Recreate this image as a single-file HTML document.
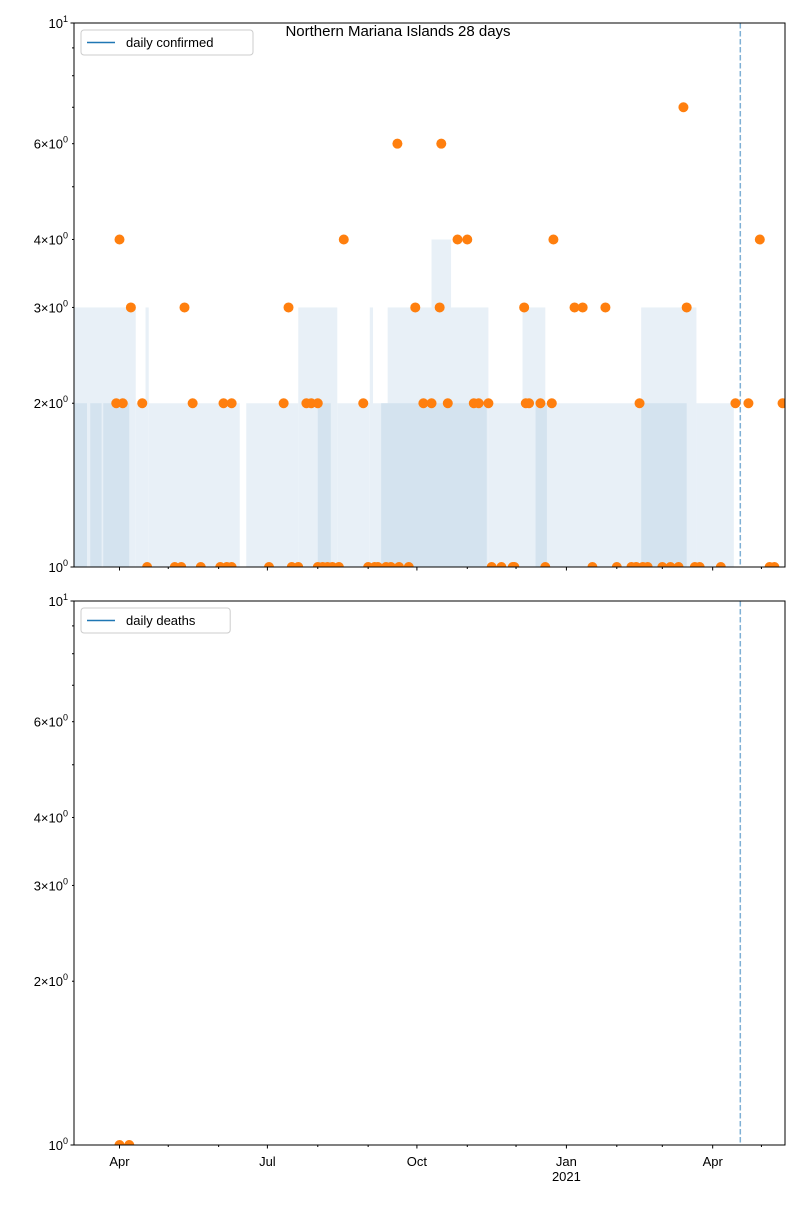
<!DOCTYPE html>
<html><head><meta charset="utf-8"><style>body{margin:0;background:#fff}svg{font-family:"Liberation Sans","DejaVu Sans",sans-serif}</style></head>
<body>
<svg id="chart" width="800" height="1200" xmlns="http://www.w3.org/2000/svg">
<text x="398" y="36" font-size="15" text-anchor="middle">Northern Mariana Islands 28 days</text>
</svg>
<script>
// day 0 = 2020-03-04
const confirmedDays=[28,26,30,35,42,45,62,66,68,73,78,90,92,94,97,97,120,129,132,134,138,143,146,150,150,153,156,159,163,166,178,181,185,187,192,195,199,200,206,210,215,220,225,226,230,236,242,246,249,255,257,263,270,271,277,278,280,287,290,294,295,308,313,319,327,334,343,346,348,350,353,362,367,372,375,377,382,385,398,407,415,422,428,431,436];
const confirmedVals=[4,2,2,3,2,1,1,1,3,2,1,1,2,1,2,1,1,2,3,1,1,2,2,2,1,1,1,1,1,4,2,1,1,1,1,1,6,1,1,3,2,2,3,6,2,4,4,2,2,2,1,1,1,1,3,2,2,2,1,2,4,3,3,1,3,1,1,1,2,1,1,1,1,1,7,3,1,1,1,2,2,4,1,1,2];
const deathDays=[28,34];
const deathVals=[1,1];
const outerBandStart=[0,38,44,46,102,106,138,162,182,184,193,220,232,255,276,290,349,383];
const outerBandEnd=[38,44,46,102,106,138,162,182,184,193,220,232,255,276,290,349,383,406];
const outerBandLevel=[3,2,3,2,1,2,3,2,3,2,3,4,3,2,3,2,3,2];
const innerBandStart=[0,10,18,150,189,284,349];
const innerBandEnd=[8,17,34,158,254,291,377];
const innerBandLevel=[2,2,2,2,2,2,2];
const xTickDays=[28,119,211,303,393];
const xTickLabels=["Apr","Jul","Oct","Jan","Apr"];
const xMinorDays=[58,89,150,181,242,272,334,362,423];
const vlineDay=410;
const yLabeled=[2,3,4,6];
const yMinor=[5,7,8,9];

const NS="http://www.w3.org/2000/svg";
const svg=document.getElementById('chart');
const X0=74,X1=785,D0=0,D1=437.5;
const xs=d=>X0+(d-D0)/(D1-D0)*(X1-X0);
function mk(t,a,p){const e=document.createElementNS(NS,t);for(const k in a)e.setAttribute(k,a[k]);(p||svg).appendChild(e);return e;}
function panel(top,bot,name,legend,days,vals,bands){
  const ys=v=>bot-Math.log10(v)*(bot-top);
  const g=mk('g',{});
  
  
  if(bands){
    const draw=(st,en,lv,col,nm)=>{for(let i=0;i<st.length;i++){const r=mk('rect',{x:xs(st[i]),y:ys(lv[i]),width:xs(en[i])-xs(st[i]),height:bot-ys(lv[i]),fill:col},g);
      
      }};
    draw(outerBandStart,outerBandEnd,outerBandLevel,'#e8f0f7','range-band');
    draw(innerBandStart,innerBandEnd,innerBandLevel,'#d4e3ef','inner-band');
  }
  const vl=mk('line',{x1:xs(vlineDay),x2:xs(vlineDay),y1:top,y2:bot,stroke:'#7fb0d5','stroke-width':1.5,'stroke-dasharray':'5.5,2.5'},g);
  
  
  const cp=mk('clipPath',{id:'cp'+name},g);mk('rect',{x:X0,y:top,width:X1-X0,height:bot-top},cp);
  const pg=mk('g',{'clip-path':'url(#cp'+name+')'},g);
  for(let i=0;i<days.length;i++){const c=mk('circle',{cx:xs(days[i]),cy:ys(vals[i]),r:5,fill:'#ff7f0e'},pg);
    
    }
  const fr=mk('rect',{x:X0,y:top,width:X1-X0,height:bot-top,fill:'none',stroke:'#000','stroke-width':1},g);
  
  
  // y ticks
  [[1,'0'],[10,'1']].forEach(([v,e])=>{const y=ys(v);mk('line',{x1:X0-3.5,x2:X0,y1:y,y2:y,stroke:'#000'},g);
    const t=mk('text',{x:X0-6,y:y+5,'font-size':13,'text-anchor':'end'},g);t.textContent='10';
    const s=mk('tspan',{dy:-6,'font-size':9},t);s.textContent=e;
    
    });
  yLabeled.forEach(v=>{const y=ys(v);mk('line',{x1:X0-2,x2:X0,y1:y,y2:y,stroke:'#000'},g);
    const t=mk('text',{x:X0-6,y:y+5,'font-size':13,'text-anchor':'end'},g);t.textContent=v+'\u00d710';
    const s=mk('tspan',{dy:-6,'font-size':9},t);s.textContent='0';
    
    });
  yMinor.forEach(v=>{const y=ys(v);mk('line',{x1:X0-2,x2:X0,y1:y,y2:y,stroke:'#000'},g);});
  // x ticks
  xTickDays.forEach((d,i)=>{const x=xs(d);mk('line',{x1:x,x2:x,y1:bot,y2:bot+3.5,stroke:'#000'},g);
    if(bot>900){const t=mk('text',{x:x,y:bot+21,'font-size':13,'text-anchor':'middle'},g);t.textContent=xTickLabels[i];
      
      
      if(i==3){const t2=mk('text',{x:x,y:bot+36,'font-size':13,'text-anchor':'middle'},g);t2.textContent='2021';
        
        }}});
  xMinorDays.forEach(d=>{const x=xs(d);mk('line',{x1:x,x2:x,y1:bot,y2:bot+2,stroke:'#000'},g);});
  // legend
  const lg=mk('g',{},g);
  
  
  mk('rect',{x:81,y:top+7,width:legend.length*7.6+58,height:25,rx:3,fill:'#fff',stroke:'#ccc'},lg);
  mk('line',{x1:87,x2:115,y1:top+19.5,y2:top+19.5,stroke:'#1f77b4','stroke-width':1.5},lg);
  const lt=mk('text',{x:126,y:top+24,'font-size':13},lg);lt.textContent=legend;
}
panel(23,567,'confirmed','daily confirmed',confirmedDays,confirmedVals,true);
panel(601,1145,'deaths','daily deaths',deathDays,deathVals,false);
</script>
</body></html>
